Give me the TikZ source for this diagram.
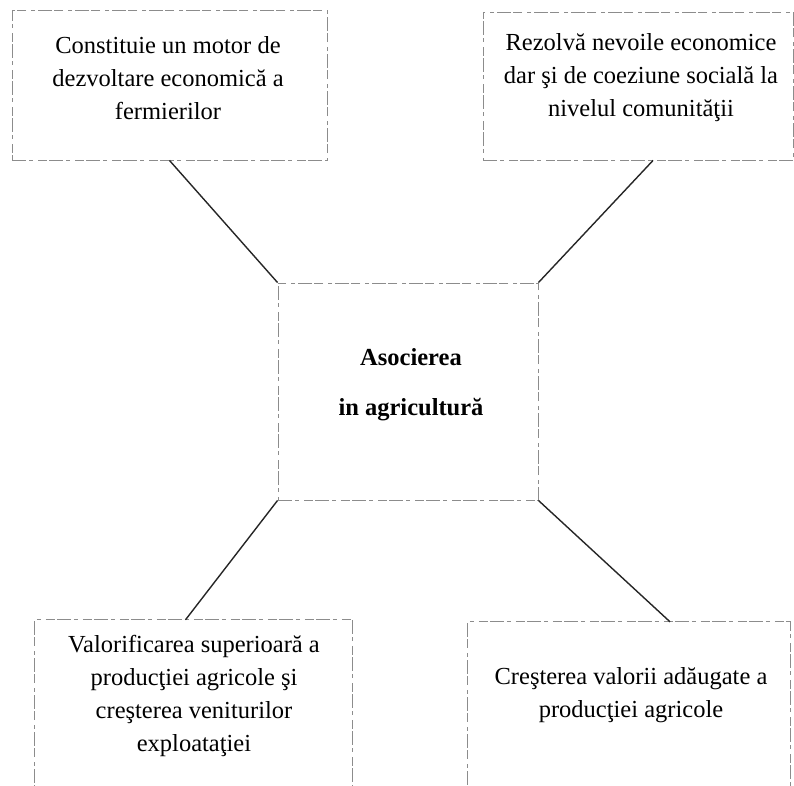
\documentclass[tikz,border=0pt]{standalone}
\usepackage{fontspec}
\setmainfont{Liberation Serif}
\usetikzlibrary{calc}
\begin{document}
\begin{tikzpicture}[x=1pt,y=-1pt,
  boxline/.style={draw=black!45, line width=0.9pt, dash pattern=on 14pt off 3pt on 4pt off 5pt on 9pt off 2pt},
  boxnode/.style={boxline, inner sep=0pt},
  blank/.style={inner sep=0pt},
  txt/.style={align=center, inner sep=0pt, font=\fontsize{24.5}{33}\selectfont},
  ctxt/.style={align=center, inner sep=0pt, font=\fontsize{24.5}{50}\selectfont\bfseries},
  conn/.style={draw=black!85, line width=1.4pt}]
\useasboundingbox (0,0) rectangle (794,785);
\clip (0,0) rectangle (794,785);
% boxes
\node[boxnode, minimum width=315pt, minimum height=150pt] (tl) at (169.5,85) {};
\node[txt] (tlt) at (168,78) {Constituie un motor de\\dezvoltare economică a\\fermierilor};
\node[boxnode, minimum width=310pt, minimum height=148pt] (tr) at (638,86) {};
\node[txt] (trt) at (641,78) {Rezolvă nevoile economice\\dar şi de coeziune socială la\\nivelul comunităţii};
\node[boxnode, minimum width=260pt, minimum height=217pt] (c) at (408,391.5) {};
\node[ctxt] (ct) at (411,385) {Asocierea\\in agricultură};
\node[blank, minimum width=317pt, minimum height=152pt] (bl) at (193.5,696) {};
\draw[boxline] ($(bl.north west)+(0,200)$) -- (bl.north west) -- (bl.north east) -- ++(0,200);
\node[txt] (blt) at (194,696) {Valorificarea superioară a\\producţiei agricole şi\\creşterea veniturilor\\exploataţiei};
\node[blank, minimum width=322pt, minimum height=146pt] (br) at (629,695) {};
\draw[boxline] ($(br.north west)+(0,200)$) -- (br.north west) -- (br.north east) -- ++(0,200);
\node[txt] (brt) at (631,695) {Creşterea valorii adăugate a\\producţiei agricole};
% connectors
\coordinate (trs) at ($(tr.south)+(15,0)$);
\coordinate (bln) at ($(bl.north)+(-8,0)$);
\coordinate (brn) at ($(br.north)+(41,0)$);
\draw[conn] (tl.south) -- (c.north west);
\draw[conn] (trs) -- (c.north east);
\draw[conn] (c.south west) -- (bln);
\draw[conn] (c.south east) -- (brn);
\end{tikzpicture}
\end{document}
